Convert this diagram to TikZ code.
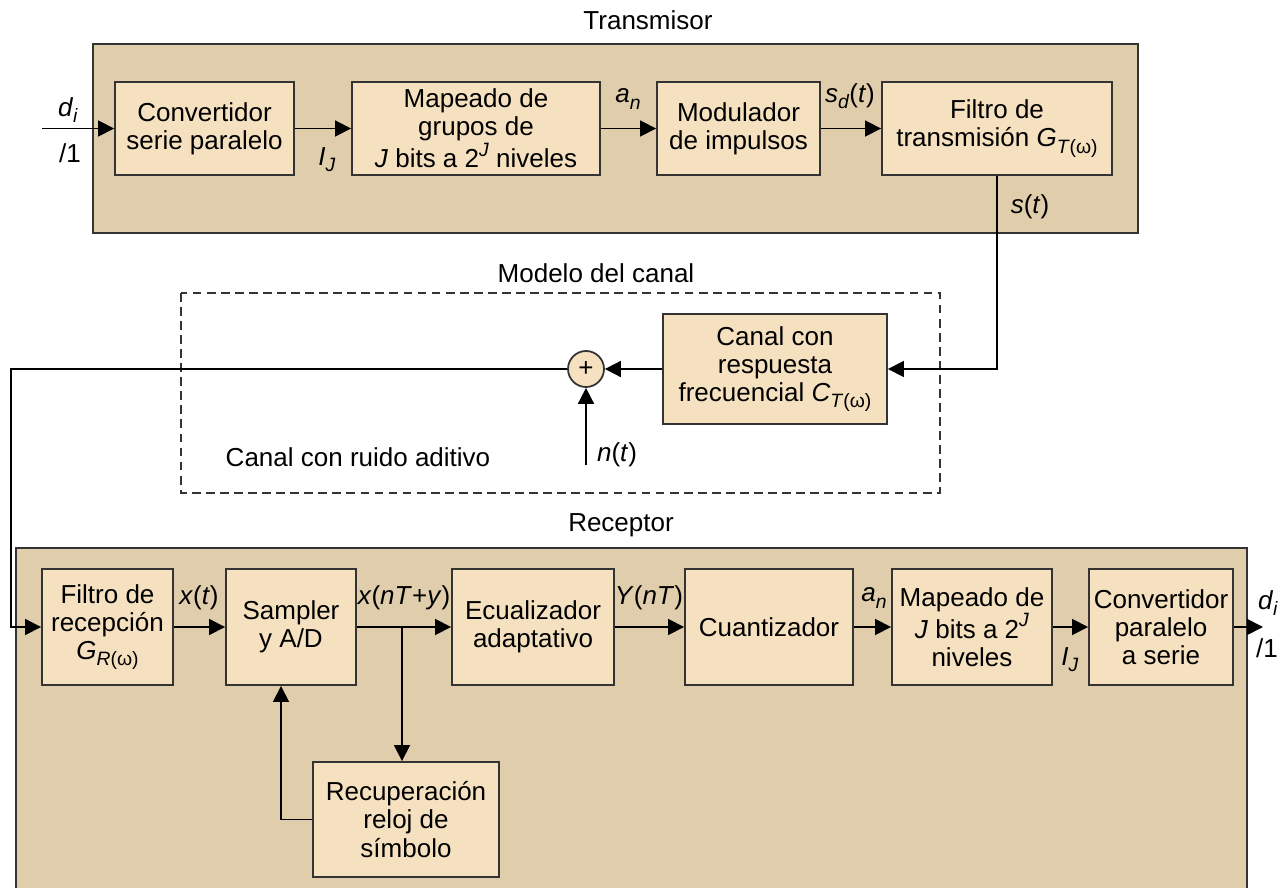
\documentclass[tikz,border=0pt]{standalone}
\usepackage{fontspec}
\setmainfont{Liberation Sans}
\usetikzlibrary{arrows.meta}
\definecolor{outerfill}{HTML}{E0CDAB}
\definecolor{innerfill}{HTML}{F5E1C0}
\definecolor{edge}{HTML}{333333}
\newcommand\sbx[1]{\raisebox{-0.45ex}{\fontsize{11pt}{11pt}\selectfont #1}}
\newcommand\isub[1]{\sbx{\textit{#1}}}
\newcommand\isup[1]{\raisebox{0.85ex}{\fontsize{11pt}{11pt}\selectfont\textit{#1}}}
\begin{document}
\begin{tikzpicture}[x=0.02cm,y=-0.02cm,
  font=\fontsize{14.8pt}{16pt}\selectfont,
  blk/.style={draw=edge, line width=1.1pt, fill=innerfill, align=center, inner sep=2pt},
  tblk/.style={blk, minimum height=1.86cm},
  rblk/.style={blk, minimum height=2.32cm},
  outer/.style={draw=edge, line width=1pt, fill=outerfill},
  arr/.style={line width=1pt, -{Triangle[length=0.32cm,width=0.32cm]}},
  lbl/.style={inner sep=1pt}]
\useasboundingbox (0,0) rectangle (1285,888);

% Transmitter
\node[lbl] (ttx) at (648,20) {Transmisor};
\draw[outer] (93,44) rectangle (1138,233);
\node[tblk, minimum width=3.58cm] (T1) at (204.5,128.5) {Convertidor\\serie paralelo};
\node[tblk, minimum width=4.96cm] (T2) at (476,128.5) {Mapeado de\\grupos de\\\textit{J} bits a 2\isup{J} niveles};
\node[tblk, minimum width=3.26cm] (T3) at (738.5,128.5) {Modulador\\de impulsos};
\node[tblk, minimum width=4.60cm] (T4) at (997,128.5) {Filtro de\\transmisión \textit{G}\sbx{\textit{T}(ω)}};
\coordinate (tin) at (42,128.5);
\draw[arr] (tin) -- (T1.west);
\draw[arr] (T1.east) -- (T2.west);
\draw[arr] (T2.east) -- (T3.west);
\draw[arr] (T3.east) -- (T4.west);
\node[lbl] (ldi) at (68,110) {\textit{d}\isub{i}};
\node[lbl] (l1) at (70,153) {/1};
\node[lbl] (lij) at (327,160) {\textit{I}\isub{J}};
\node[lbl] (lan) at (628,99) {\textit{a}\isub{n}};
\node[lbl] (lsd) at (850,96) {\textit{s}\isub{d}(\textit{t})};
\node[lbl] (lst) at (1030,207) {\textit{s}(\textit{t})};

% Channel
\node[lbl] (tmc) at (596,273) {Modelo del canal};
\draw[edge, line width=1pt, dashed, dash pattern=on 5pt off 3pt] (181,293) rectangle (940,493);
\node[blk, minimum width=4.48cm, minimum height=2.2cm] (C) at (775,369) {Canal con\\respuesta\\frecuencial \textit{C}\sbx{\textit{T}(ω)}};
\node[draw=edge, line width=1pt, fill=innerfill, circle, minimum size=0.72cm, inner sep=0pt] (S) at (586,369) {+};
\draw[arr] (T4.south) |- (C.east);
\draw[arr] (C.west) -- (S.east);
\coordinate (nin) at (586,465);
\draw[arr] (nin) -- (S.south);
\node[lbl] (lnt) at (617,455) {\textit{n}(\textit{t})};
\node[lbl] (lcr) at (358,457) {Canal con ruido aditivo};

% Receiver
\node[lbl] (trx) at (621,525) {Receptor};
\fill[outerfill] (16,548) rectangle (1247,890);
\draw[edge, line width=1pt] (16,890) -- (16,548) -- (1247,548) -- (1247,890);
\node[rblk, minimum width=2.62cm] (R1) at (107.5,627) {Filtro de\\recepción\\\textit{G}\sbx{\textit{R}(ω)}};
\node[rblk, minimum width=2.60cm] (R2) at (291,627) {Sampler\\y A/D};
\node[rblk, minimum width=3.24cm] (R3) at (533,627) {Ecualizador\\adaptativo};
\node[rblk, minimum width=3.36cm] (R4) at (769,627) {Cuantizador};
\node[rblk, minimum width=3.20cm] (R5) at (972,627) {Mapeado de\\\textit{J} bits a 2\isup{J}\\niveles};
\node[rblk, minimum width=2.88cm] (R6) at (1161,627) {Convertidor\\paralelo\\a serie};
\node[blk, minimum width=3.72cm, minimum height=2.3cm] (Rec) at (406,819.5) {Recuperación\\reloj de\\símbolo};
\coordinate (lk) at (11,369);
\draw[arr] (S.west) -- (lk) |- (R1.west);
\draw[arr] (R1.east) -- (R2.west);
\draw[arr] (R2.east) -- (R3.west);
\draw[arr] (R3.east) -- (R4.west);
\draw[arr] (R4.east) -- (R5.west);
\draw[arr] (R5.east) -- (R6.west);
\coordinate (rout) at (1263,627);
\draw[arr] (R6.east) -- (rout);
\coordinate (br) at (402,627);
\draw[arr] (br) -- (br |- Rec.north);
\draw[arr] (Rec.west) -| ([xshift=-0.2cm]R2.south);
\node[lbl] (lxt) at (199,598) {\textit{x}(\textit{t})};
\node[lbl] (lxn) at (404,598) {\textit{x}(\textit{nT}+\textit{y})};
\node[lbl] (lyn) at (649,598) {\textit{Y}(\textit{nT})};
\node[lbl] (lan2) at (874,598) {\textit{a}\isub{n}};
\node[lbl] (lij2) at (1070,660) {\textit{I}\isub{J}};
\node[lbl] (ldi2) at (1268,603) {\textit{d}\isub{i}};
\node[lbl] (l12) at (1267,648) {/1};
\end{tikzpicture}
\end{document}
